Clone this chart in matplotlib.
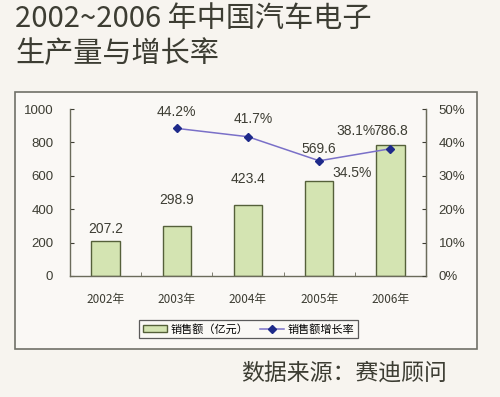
import matplotlib
matplotlib.use("Agg")
import matplotlib.pyplot as plt
from matplotlib.patches import Rectangle

plt.rcParams['font.family'] = ['Noto Sans CJK SC', 'DejaVu Sans']

years = ['2002年', '2003年', '2004年', '2005年', '2006年']
sales = [207.2, 298.9, 423.4, 569.6, 786.8]
growth = [None, 44.2, 41.7, 34.5, 38.1]
sales_ticks = [0, 200, 400, 600, 800, 1000]
pct_ticks = [0, 10, 20, 30, 40, 50]

# label offsets (points) as placed in the original
sales_off = [9, 19, 19, 23, 10]
growth_off = [None, 12, 13, -8.5, 13]
growth_dx = [None, 0, 4, 24, -25]

bg = '#f7f4ef'
txt = '#3d3d33'
num_font = ['Liberation Sans Narrow', 'Liberation Sans', 'DejaVu Sans']

fig = plt.figure(figsize=(5, 3.97), dpi=100, facecolor=bg)
fig.add_artist(Rectangle((15 / 500, 1 - 349 / 397), 462 / 500, 257 / 397,
                         transform=fig.transFigure, facecolor='#faf8f5',
                         edgecolor='#707068', linewidth=1.2, zorder=0))

ax = fig.add_axes([0.14, 0.3048, 0.712, 0.4206])
ax.set_facecolor('none')
x = list(range(len(years)))
bars = ax.bar(x, sales, width=0.4, color='#d4e4b2', edgecolor='#55603a',
              linewidth=1.0, label='销售额（亿元）', zorder=2)
ax.set_ylim(0, 1000)
ax.set_xlim(-0.5, 4.5)
ax.set_yticks(sales_ticks)
ax.set_xticks(x)
ax.set_xticklabels(years)
ax.set_xticks([0.5, 1.5, 2.5, 3.5], minor=True)
ax.tick_params(axis='x', which='major', length=0, pad=12, labelsize=8.5, colors=txt)
ax.tick_params(axis='x', which='minor', length=3, direction='in', color='#6b6b5b')
ax.tick_params(axis='y', length=3, direction='in', labelsize=9.5, colors=txt, pad=12)
for lab in ax.get_yticklabels():
    lab.set_family(num_font)
ax.spines['top'].set_visible(False)
for s in ['left', 'bottom', 'right']:
    ax.spines[s].set_color('#6b6b5b')
    ax.spines[s].set_linewidth(1.0)

for i, v in enumerate(sales):
    ax.annotate(f'{v:.1f}', (i, v), xytext=(0, sales_off[i]), textcoords='offset points',
                ha='center', va='center', fontsize=10, color=txt, family=num_font)

ax2 = ax.twinx()
gx = [i for i, g in enumerate(growth) if g is not None]
gy = [g for g in growth if g is not None]
ax2.plot(gx, gy, color='#7a70c8', linewidth=1.1, marker='D', markersize=4,
         markerfacecolor='#1e2a8a', markeredgecolor='#1e2a8a', label='销售额增长率', zorder=3)
ax2.set_ylim(0, 50)
ax2.set_yticks(pct_ticks)
ax2.set_yticklabels([f'{p}%' for p in pct_ticks])
ax2.tick_params(axis='y', length=3, direction='in', labelsize=9.5, colors=txt, pad=9)
for lab in ax2.get_yticklabels():
    lab.set_family(num_font)
ax2.spines['top'].set_visible(False)
ax2.spines['right'].set_color('#6b6b5b')
ax2.spines['left'].set_visible(False)
ax2.spines['bottom'].set_visible(False)

for i, g in enumerate(growth):
    if g is None:
        continue
    ax2.annotate(f'{g}%', (i, g), xytext=(growth_dx[i], growth_off[i]), textcoords='offset points',
                 ha='center', va='center', fontsize=10, color=txt, family=num_font)

h1, l1 = ax.get_legend_handles_labels()
h2, l2 = ax2.get_legend_handles_labels()
leg = fig.legend(h1 + h2, l1 + l2, loc='center', bbox_to_anchor=(0.497, 0.171), ncol=2,
                 fontsize=8, frameon=True, fancybox=False, edgecolor='#333333',
                 handlelength=2.2, handleheight=0.6, columnspacing=1.0, handletextpad=0.3,
                 borderpad=0.35, facecolor='#faf8f5')
leg.get_frame().set_linewidth(0.9)

fig.text(15 / 500, 1 - 19 / 397, '2002~2006 年中国汽车电子', fontsize=21, color=txt,
         ha='left', va='center')
fig.text(15 / 500, 1 - 54 / 397, '生产量与增长率', fontsize=21, color=txt,
         ha='left', va='center')
fig.text(447 / 500, 1 - 373 / 397, '数据来源：赛迪顾问', fontsize=16.5, color=txt,
         ha='right', va='center')

fig.savefig('out.png', dpi=100, facecolor=bg)
